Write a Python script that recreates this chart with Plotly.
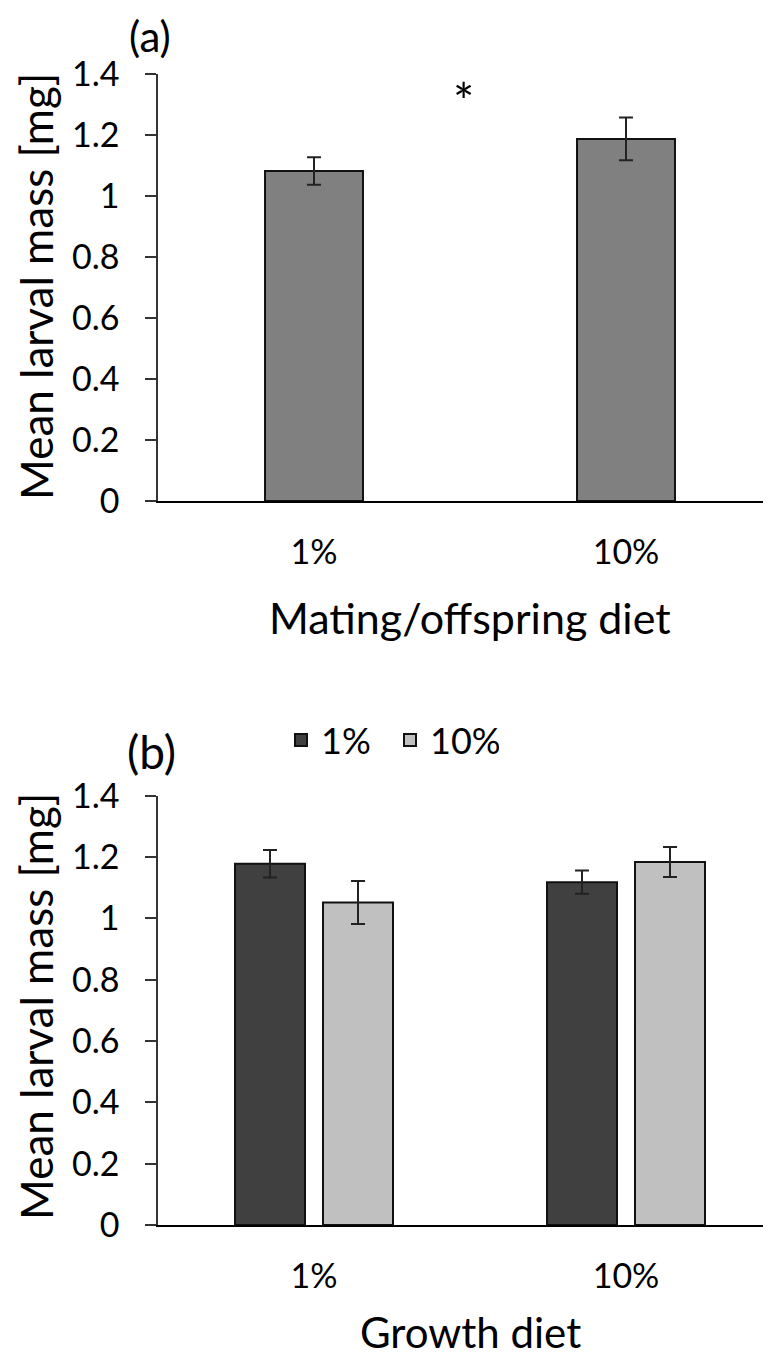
import plotly.graph_objects as go

# ---------------- data ----------------
categories = ["1%", "10%"]

# panel (a): mating/offspring diet
mass_a = [1.082, 1.187]
err_a = [0.045, 0.070]

# panel (b): growth diet, split by mating/offspring diet
series_names = ["1%", "10%"]
mass_b_1 = [1.178, 1.118]
err_b_1 = [0.045, 0.038]
mass_b_10 = [1.052, 1.184]
err_b_10 = [0.070, 0.049]

y_ticks = [0, 0.2, 0.4, 0.6, 0.8, 1.0, 1.2, 1.4]

# ---------------- styling ----------------
# page body has an 8px margin: the figure is sized to fill the rest of the window
OFF = 8
W, H = 771 - OFF, 1358 - OFF
FONT = "Lato"
BAR_LINE = dict(color="#111111", width=2)
ERR = dict(type="data", thickness=2, width=7, color="#222222")

def px_x(p):
    return (p - OFF) / W

def px_y(p):
    return (H - (p - OFF)) / H

fig = go.Figure()

fig.add_trace(go.Bar(
    x=categories, y=mass_a,
    error_y=dict(array=err_a, **ERR),
    width=0.314,
    marker=dict(color="#808080", line=BAR_LINE),
    xaxis="x", yaxis="y", showlegend=False, name="Mating/offspring diet",
))

fig.add_trace(go.Bar(
    x=categories, y=mass_b_1, name=series_names[0],
    error_y=dict(array=err_b_1, **ERR),
    width=0.2244, offset=-0.2532,
    marker=dict(color="#404040", line=BAR_LINE),
    xaxis="x2", yaxis="y2",
))
fig.add_trace(go.Bar(
    x=categories, y=mass_b_10, name=series_names[1],
    error_y=dict(array=err_b_10, **ERR),
    width=0.2244, offset=0.0288,
    marker=dict(color="#c0c0c0", line=BAR_LINE),
    xaxis="x2", yaxis="y2",
))

x_dom = [px_x(158), 1.0]
xr = [-0.5, -0.5 + (771 - 158) / 312.0]

xaxis_common = dict(
    type="category", range=xr, domain=x_dom, automargin=False,
    showline=True, linecolor="#000000", linewidth=2,
    ticks="", showgrid=False, zeroline=False,
    tickfont=dict(family=FONT, size=34, color="#000000"),
    ticklabelstandoff=20,
)
yaxis_common = dict(
    range=[0, 1.4], tickvals=y_ticks, automargin=False,
    ticktext=[("%g" % v) for v in y_ticks],
    showline=True, linecolor="#333333", linewidth=1.5,
    ticks="outside", ticklen=11, tickwidth=1.5, tickcolor="#333333",
    showgrid=False, zeroline=False,
    tickfont=dict(family=FONT, size=34, color="#000000"),
    ticklabelstandoff=19,
)

fig.update_layout(
    width=W, height=H,
    margin=dict(l=0, r=0, t=0, b=0, pad=0, autoexpand=False),
    paper_bgcolor="white", plot_bgcolor="white",
    barmode="overlay",
    font=dict(family=FONT, color="#000000"),
    xaxis=dict(anchor="y", **xaxis_common),
    yaxis=dict(anchor="x", domain=[px_y(501), px_y(74)], **yaxis_common),
    xaxis2=dict(anchor="y2", **xaxis_common),
    yaxis2=dict(anchor="x2", domain=[px_y(1225), px_y(795.7)], **yaxis_common),
    legend=dict(
        orientation="h", x=px_x(281), y=px_y(740),
        xanchor="left", yanchor="middle",
        font=dict(family=FONT, size=36, color="#000000"),
        bgcolor="rgba(0,0,0,0)", itemwidth=30, entrywidth=64,
    ),
)

def label(text, x, y, size, angle=0, xref="paper", yref="paper"):
    return dict(text=text, x=x, y=y, xref=xref, yref=yref, xanchor="center",
                yanchor="middle", textangle=angle, showarrow=False,
                font=dict(family=FONT, size=size, color="#000000"))

annotations = [
    label("(a)", px_x(150), px_y(36), 42),
    label("(b)", px_x(151), px_y(751), 46),
    label("*", 0.4776, 1.31, 50, xref="x", yref="y"),
    label("Mean larval mass [mg]", px_x(36), px_y(287), 44, angle=-90),
    label("Mean larval mass [mg]", px_x(36), px_y(1007), 44, angle=-90),
    label("Mating/offspring diet", px_x(470), px_y(617), 43),
    label("Growth diet", px_x(470), px_y(1332), 42),
]
fig.update_layout(annotations=annotations)

fig.write_html("out.html")
